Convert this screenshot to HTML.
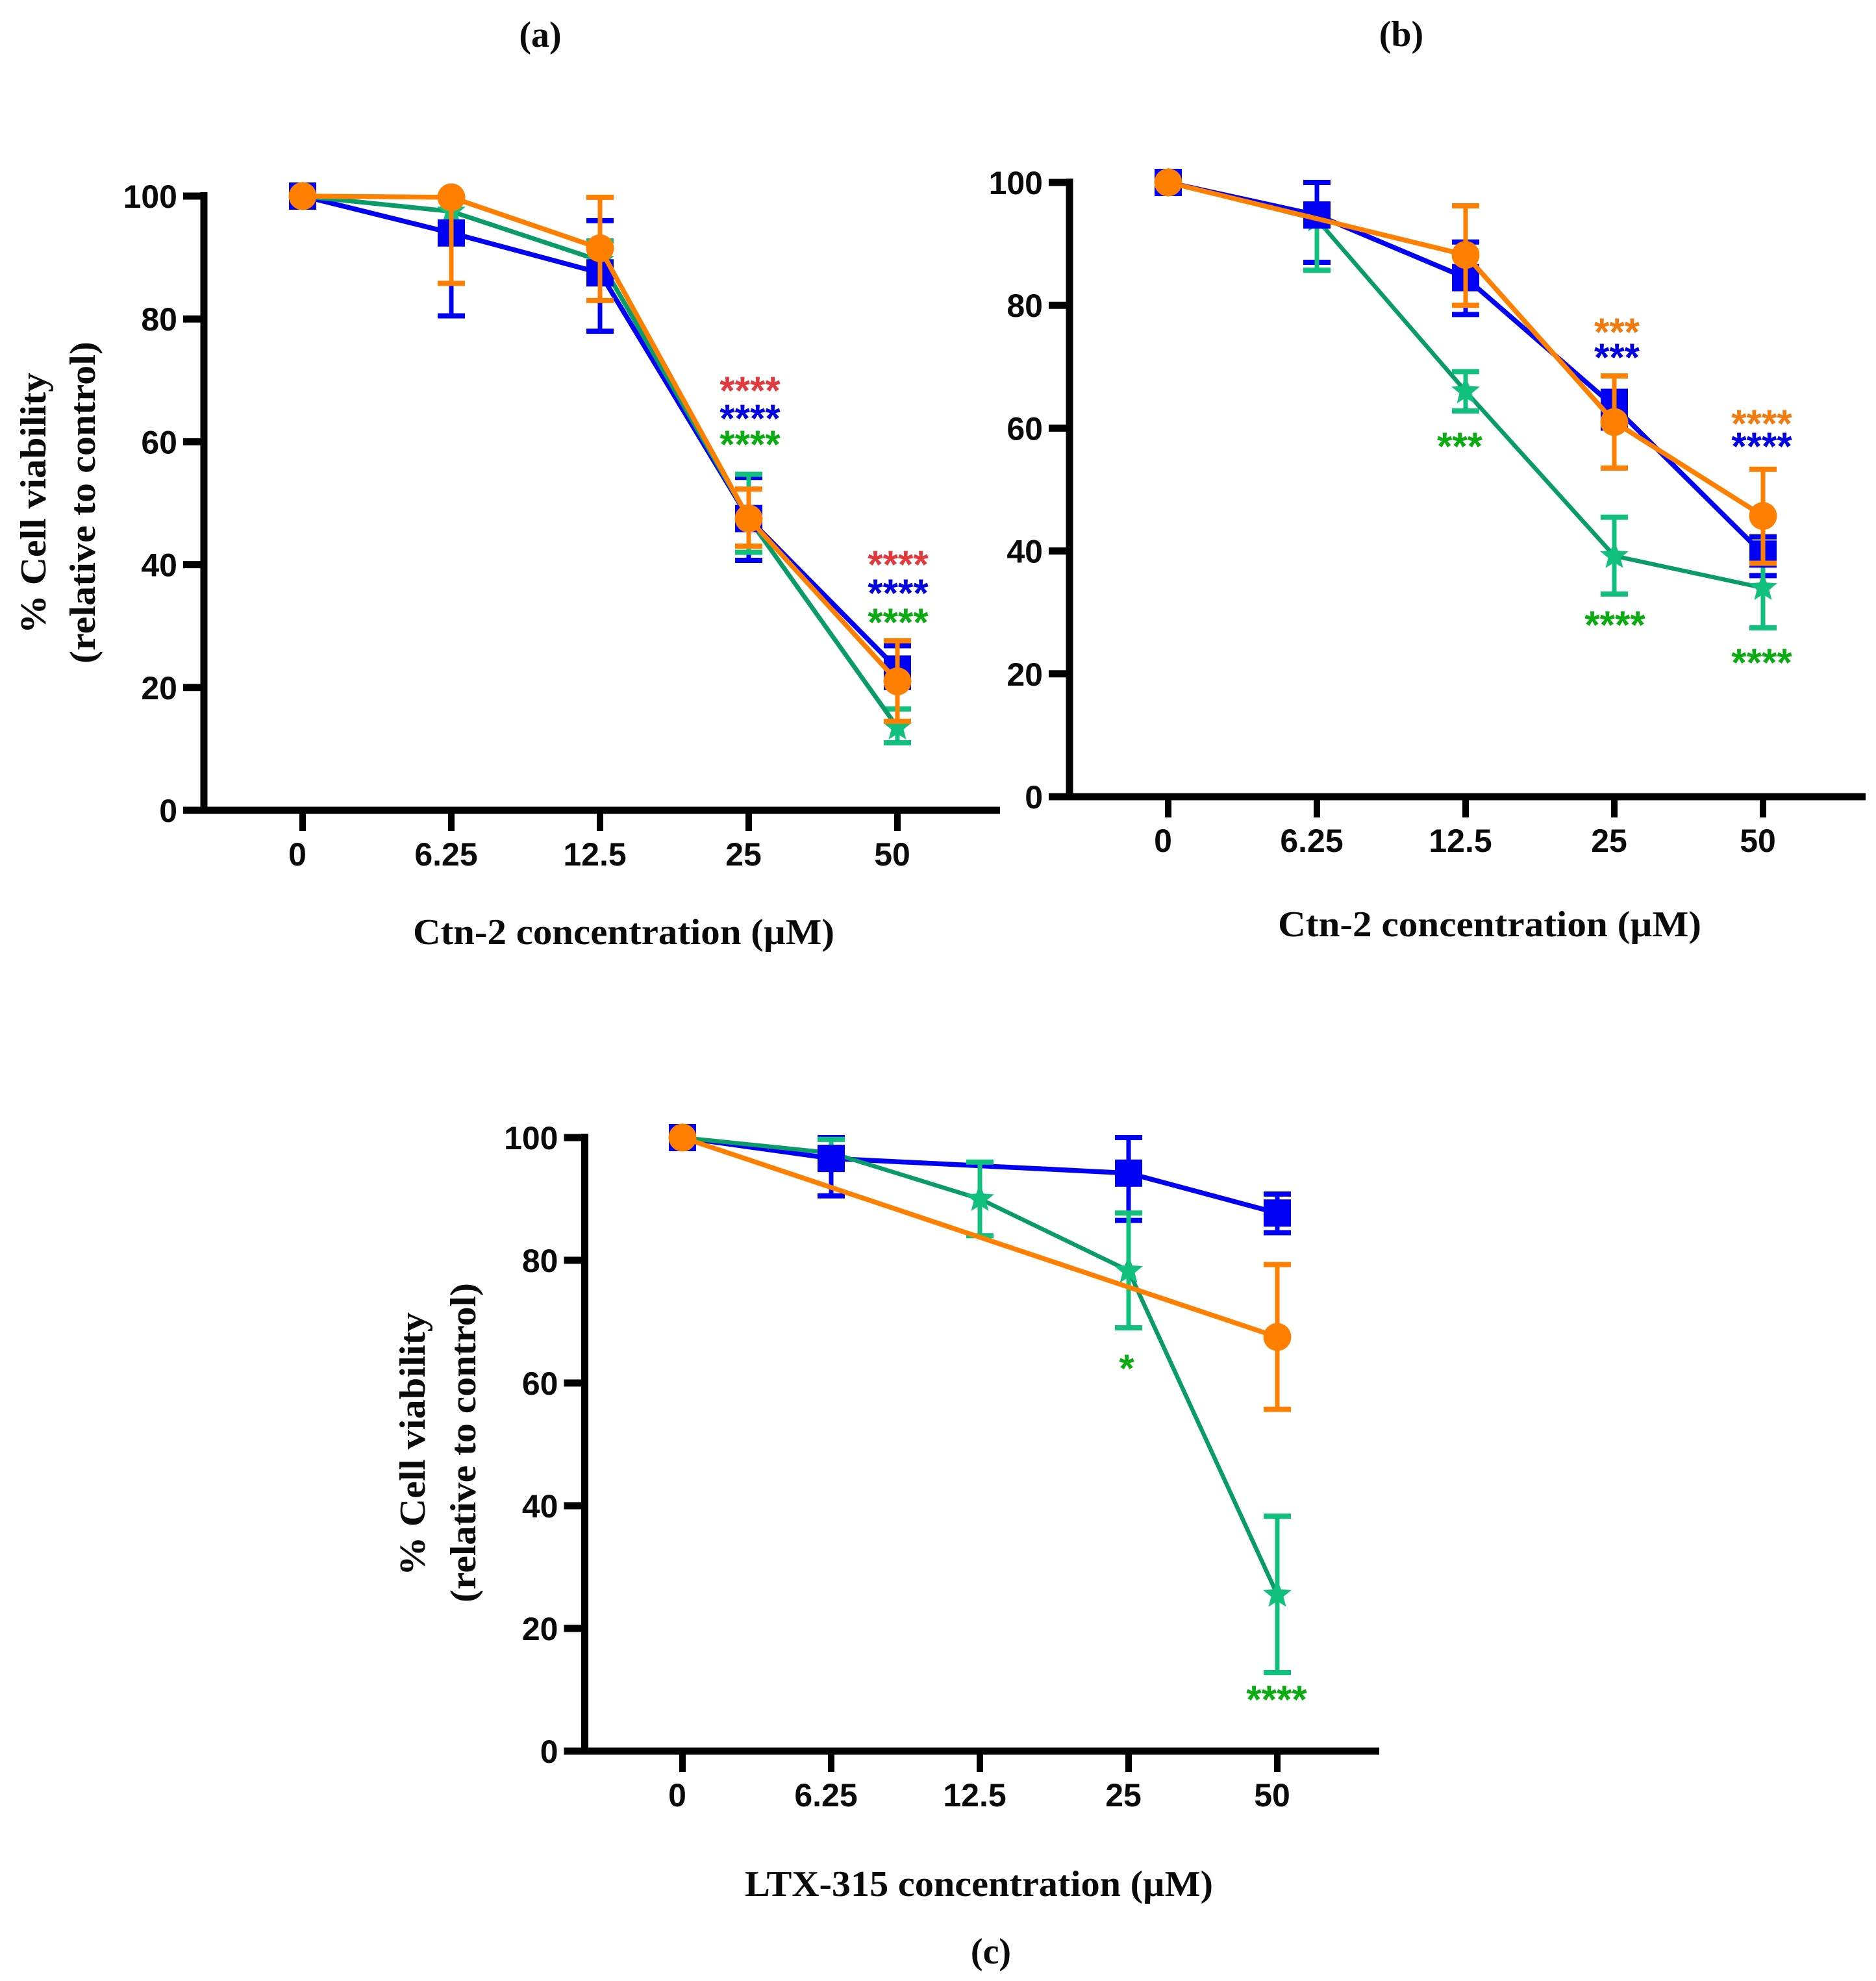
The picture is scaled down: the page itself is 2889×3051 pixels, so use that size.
<!DOCTYPE html>
<html lang="en">
<head>
<meta charset="utf-8">
<title>Cell viability panels</title>
<style>
html,body{margin:0;padding:0;background:#fff;width:2889px;height:3051px;overflow:hidden}
svg{display:block}
.tick{font-family:"Liberation Sans",Arial,sans-serif;font-weight:700;font-size:50px;fill:#0a0a0a}
.title{font-family:"Liberation Serif",serif;font-weight:700;font-size:56px;fill:#0a0a0a}
.panel{font-family:"Liberation Serif",serif;font-weight:700;font-size:56px;fill:#0a0a0a}
.sig{font-family:"Liberation Sans",sans-serif;font-weight:700;font-size:60px;text-anchor:middle}
</style>
</head>
<body>
<svg id="chart" xmlns="http://www.w3.org/2000/svg" width="2889" height="3051" viewBox="0 0 2889 3051">
  <rect width="2889" height="3051" fill="#fff"/>
  <text class="panel" x="832" y="72" text-anchor="middle">(a)</text>
  <text class="panel" x="2158" y="71" text-anchor="middle">(b)</text>
  <text class="panel" x="1526" y="3024" text-anchor="middle">(c)</text>

  <text class="title" x="636" y="1454" textLength="649" lengthAdjust="spacingAndGlyphs">Ctn-2 concentration (µM)</text>
  <text class="title" x="1968" y="1442" textLength="652" lengthAdjust="spacingAndGlyphs">Ctn-2 concentration (µM)</text>
  <text class="title" x="1147" y="2920" textLength="721" lengthAdjust="spacingAndGlyphs">LTX-315 concentration (µM)</text>

  <text class="title" transform="translate(70,976) rotate(-90)" textLength="402" lengthAdjust="spacingAndGlyphs">% Cell viability</text>
  <text class="title" transform="translate(146,1022) rotate(-90)" textLength="496" lengthAdjust="spacingAndGlyphs">(relative to control)</text>
  <text class="title" transform="translate(654,2427) rotate(-90)" textLength="406" lengthAdjust="spacingAndGlyphs">% Cell viability</text>
  <text class="title" transform="translate(732,2468) rotate(-90)" textLength="492" lengthAdjust="spacingAndGlyphs">(relative to control)</text>

  <g id="panels"></g>
</svg>
<script>
// ---- shared data ----
const categories = ["0", "6.25", "12.5", "25", "50"];
const yTicks = [0, 20, 40, 60, 80, 100];

// ---- panel (a) ----
const aBlue = [100, 94, 87.5, 47.5, 23];
const aBlueLow = [null, 80.5, 78, 40.7, 20];
const aBlueHigh = [null, null, 96, 54.2, 26.8];
const aGreen = [100, 97.5, 89.5, 47.5, 13.5];
const aGreenLow = [null, null, 86, 42, 11];
const aGreenHigh = [null, null, 92.7, 54.7, 16.5];
const aOrange = [100, 99.8, 91.5, 47.5, 21];
const aOrangeLow = [null, 85.8, 83, 43, 14.5];
const aOrangeHigh = [null, null, 99.8, 52.3, 27.6];

// ---- panel (b) ----
const bBlue = [100, 94.7, 84.5, 63.5, 39.5];
const bBlueLow = [null, 87, 78.5, 60, 36];
const bBlueHigh = [null, 100, 90.3, 66, 42.3];
const bGreen = [100, 94, 66, 39.2, 34];
const bGreenLow = [null, 85.7, 62.8, 33, 27.5];
const bGreenHigh = [null, null, 69.2, 45.5, 40];
const bOrange = [100, null, 88.2, 61, 45.7];
const bOrangeLow = [null, null, 80, 53.5, 38];
const bOrangeHigh = [null, null, 96.2, 68.5, 53.3];

// ---- panel (c) ----
const cBlue = [100, 96.6, null, 94.2, 87.7];
const cBlueLow = [null, 90.5, null, 86.5, 84.5];
const cBlueHigh = [null, 100, null, 100, 90.8];
const cGreen = [100, 97.5, 90, 78.3, 25.5];
const cGreenLow = [null, null, 84, 69, 12.8];
const cGreenHigh = [null, 99.7, 96, 87.7, 38.3];
const cOrange = [100, null, null, null, 67.5];
const cOrangeLow = [null, null, null, null, 55.7];
const cOrangeHigh = [null, null, null, null, 79.3];

const SVGNS = "http://www.w3.org/2000/svg";
const BLUE = "#0000f5", ORANGE = "#ff7f00", GREEN_LINE = "#0a9c68", GREEN_MARK = "#10c07c";
const SIG_RED = "#e03a3e", SIG_BLUE = "#0000e0", SIG_GREEN = "#0bab12", SIG_ORANGE = "#f07c10";

function el(tag, attrs) {
  const e = document.createElementNS(SVGNS, tag);
  for (const k in attrs) e.setAttribute(k, attrs[k]);
  return e;
}

function drawPanel(cfg) {
  const root = document.getElementById("panels");
  const g = el("g", {});
  
  
  root.appendChild(g);

  const yS = v => cfg.y0 + (cfg.y100 - cfg.y0) * v / 100;
  const xS = i => cfg.x0 + i * cfg.dx;

  // axes
  const yAxis = el("line", {x1: cfg.axisX, x2: cfg.axisX, y1: yS(100) - 6, y2: yS(0) + 5.5, stroke: "#000", "stroke-width": 11});
  
  
  g.appendChild(yAxis);

  const xAxis = el("line", {x1: cfg.axisX - 32, x2: cfg.axisEnd, y1: yS(0), y2: yS(0), stroke: "#000", "stroke-width": 11});
  
  
  g.appendChild(xAxis);

  yTicks.forEach(t => {
    const tick = el("line", {x1: cfg.axisX - 32, x2: cfg.axisX, y1: yS(t), y2: yS(t), stroke: "#000", "stroke-width": 11});
    
    
    g.appendChild(tick);

    const lab = el("text", {class: "tick", x: cfg.axisX - 41, y: yS(t) + 18, "text-anchor": "end"});
    lab.textContent = t;
    
    
    g.appendChild(lab);
  });

  categories.forEach((c, i) => {
    const tick = el("line", {x1: xS(i), x2: xS(i), y1: yS(0), y2: yS(0) + 32, stroke: "#000", "stroke-width": 10});
    
    
    g.appendChild(tick);

    const lab = el("text", {class: "tick", x: xS(i) - 8, y: yS(0) + 85, "text-anchor": "middle"});
    lab.textContent = c;
    
    
    g.appendChild(lab);
  });

  const drawLine = s => {
    const pts = [];
    s.values.forEach((v, i) => { if (v !== null) pts.push(xS(i) + "," + yS(v)); });
    const line = el("polyline", {points: pts.join(" "), fill: "none", stroke: s.line, "stroke-width": s.width, "stroke-linejoin": "round"});
    
    
    g.appendChild(line);
  };

  const drawErrors = s => {
    s.values.forEach((v, i) => {
      if (v === null) return;
      const lo = s.low[i], hi = s.high[i];
      if (lo === null && hi === null) return;
      const top = hi === null ? v : hi, bottom = lo === null ? v : lo;
      const stem = el("line", {x1: xS(i), x2: xS(i), y1: yS(top), y2: yS(bottom), stroke: s.mark, "stroke-width": 7});
      
      
      g.appendChild(stem);
      [lo, hi].forEach(cap => {
        if (cap === null) return;
        const c = el("line", {x1: xS(i) - 21, x2: xS(i) + 21, y1: yS(cap), y2: yS(cap), stroke: s.mark, "stroke-width": 8});
        
        
        g.appendChild(c);
      });
    });
  };

  const drawMarkers = s => {
    s.values.forEach((v, i) => {
      if (v === null) return;
      const cx = xS(i), cy = yS(v);
      let m;
      if (s.shape === "square") {
        m = el("rect", {x: cx - 21, y: cy - 21, width: 42, height: 42, fill: s.mark});
      } else if (s.shape === "circle") {
        m = el("circle", {cx: cx, cy: cy, r: 21.5, fill: s.mark});
      } else {
        const p = [];
        for (let k = 0; k < 10; k++) {
          const r = k % 2 ? 10 : 23, a = -Math.PI / 2 + k * Math.PI / 5;
          p.push((cx + r * Math.cos(a)).toFixed(1) + "," + (cy + r * Math.sin(a)).toFixed(1));
        }
        m = el("polygon", {points: p.join(" "), fill: s.mark});
      }
      
      
      g.appendChild(m);
    });
  };

  // paint order: blue bars and line, green everything, blue squares, orange everything
  const blue = cfg.series[0], green = cfg.series[1], orange = cfg.series[2];
  drawErrors(blue);
  drawLine(blue);
  drawErrors(green);
  drawLine(green);
  drawMarkers(green);
  drawMarkers(blue);
  drawErrors(orange);
  drawLine(orange);
  drawMarkers(orange);

  // significance asterisks
  cfg.sig.forEach(a => {
    const t = el("text", {class: "sig", x: a[0], y: a[1] + 31, fill: a[3]});
    t.textContent = a[2];
    
    
    g.appendChild(t);
  });
}

function seriesSet(blue, blueLow, blueHigh, green, greenLow, greenHigh, orange, orangeLow, orangeHigh, greenWidth) {
  return [
    {name: "blue", values: blue, low: blueLow, high: blueHigh, line: BLUE, mark: BLUE, width: 7.5, shape: "square"},
    {name: "green", values: green, low: greenLow, high: greenHigh, line: GREEN_LINE, mark: GREEN_MARK, width: greenWidth, shape: "star"},
    {name: "orange", values: orange, low: orangeLow, high: orangeHigh, line: ORANGE, mark: ORANGE, width: 7.5, shape: "circle"}
  ];
}

drawPanel({
  id: "a", axisX: 314, axisEnd: 1540, y0: 1248, y100: 302, x0: 466, dx: 229,
  series: seriesSet(aBlue, aBlueLow, aBlueHigh, aGreen, aGreenLow, aGreenHigh, aOrange, aOrangeLow, aOrangeHigh, 7),
  sig: [
    [1155, 591, "****", SIG_RED], [1155, 634, "****", SIG_BLUE], [1155, 674, "****", SIG_GREEN],
    [1383, 859, "****", SIG_RED], [1383, 903, "****", SIG_BLUE], [1383, 948, "****", SIG_GREEN]
  ]
});
drawPanel({
  id: "b", axisX: 1647, axisEnd: 2873, y0: 1227, y100: 281, x0: 1799, dx: 229,
  series: seriesSet(bBlue, bBlueLow, bBlueHigh, bGreen, bGreenLow, bGreenHigh, bOrange, bOrangeLow, bOrangeHigh, 6.5),
  sig: [
    [2490, 501, "***", SIG_ORANGE], [2490, 540, "***", SIG_BLUE], [2248, 677, "***", SIG_GREEN],
    [2487, 952, "****", SIG_GREEN], [2713, 642, "****", SIG_ORANGE], [2713, 677, "****", SIG_BLUE],
    [2713, 1010, "****", SIG_GREEN]
  ]
});
drawPanel({
  id: "c", axisX: 900.5, axisEnd: 2124, y0: 2697, y100: 1752, x0: 1051, dx: 229,
  series: seriesSet(cBlue, cBlueLow, cBlueHigh, cGreen, cGreenLow, cGreenHigh, cOrange, cOrangeLow, cOrangeHigh, 6.5),
  sig: [
    [1735, 2097, "*", SIG_GREEN], [1966, 2607, "****", SIG_GREEN]
  ]
});
</script>
</body>
</html>
